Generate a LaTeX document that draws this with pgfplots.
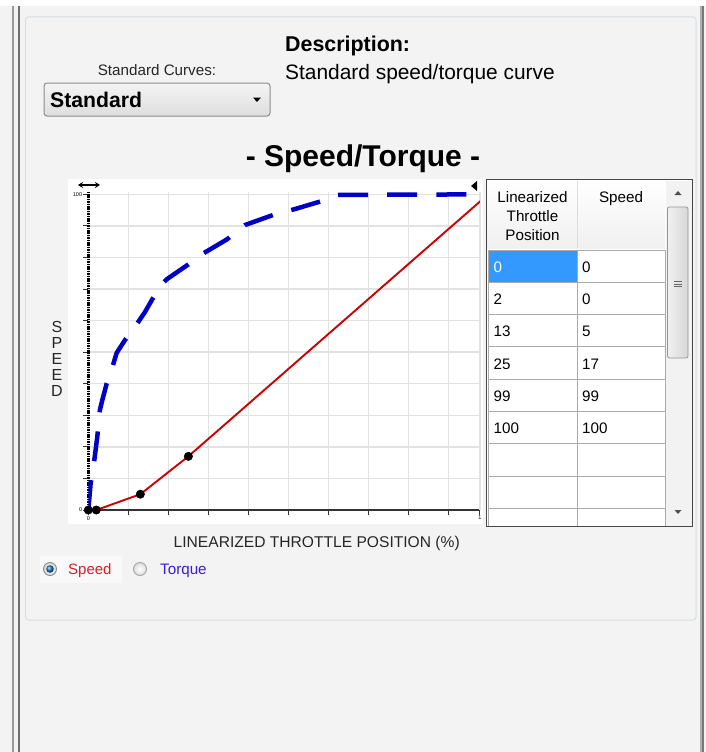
\documentclass[border=0pt]{standalone}
\usepackage{pgfplots}
\pgfplotsset{compat=1.18}
\usepackage{fontspec}
\setmainfont{Liberation Sans}
\usetikzlibrary{arrows.meta}
\definecolor{bg}{RGB}{243,243,243}
\definecolor{panel}{RGB}{214,223,230}
\definecolor{gridc}{RGB}{226,226,226}
\definecolor{redS}{RGB}{208,0,0}
\definecolor{blueT}{RGB}{0,0,200}
\definecolor{sel}{RGB}{51,153,255}
\definecolor{cellline}{RGB}{170,170,170}
\definecolor{tabborder}{RGB}{70,70,70}
\definecolor{speedtxt}{RGB}{220,30,40}
\definecolor{torquetxt}{RGB}{60,30,210}
\newcommand{\fs}[1]{\fontsize{#1pt}{#1pt}\selectfont}
\begin{document}
\begin{tikzpicture}[x=1pt,y=-1pt]
% background
\fill[bg] (0,0) rectangle (706,752);
\fill[white] (0,0) rectangle (706,6);
\draw[line width=1.3pt, color={rgb,255:red,155;green,155;blue,155}] (13,6) -- (13,752);
\draw[line width=1.3pt, color={rgb,255:red,110;green,110;blue,110}] (19,6) -- (19,752);
\draw[line width=1.6pt, color={rgb,255:red,175;green,175;blue,175}] (700.8,6) -- (700.8,752);
\draw[line width=1.8pt, color={rgb,255:red,120;green,120;blue,120}] (702.8,6) -- (702.8,752);
% panel
\draw[panel, line width=1pt, rounded corners=3pt] (25.5,17) rectangle (696,620);
% top controls
\node[anchor=base, inner sep=0pt, font=\fs{15.2}, text=black!85] at (157,75) {Standard Curves:};
\shade[top color={rgb,255:red,244;green,244;blue,244}, bottom color={rgb,255:red,222;green,222;blue,222}, rounded corners=3pt] (44,83) rectangle (270,116);
\draw[color={rgb,255:red,140;green,140;blue,140}, line width=1pt, rounded corners=3pt] (44,83) rectangle (270,116);
\node[anchor=base west, inner sep=0pt, font=\bfseries\fs{21.2}] at (50,107) {Standard};
\fill[black] (253,97.5) -- (261,97.5) -- (257,102) -- cycle;
\node[anchor=base west, inner sep=0pt, font=\bfseries\fs{21.4}] at (285,52) {Description:};
\node[anchor=base west, inner sep=0pt, font=\fs{20.9}] at (285,80) {Standard speed/torque curve};
\node[anchor=base, inner sep=0pt, font=\bfseries\fs{30}] at (363,166) {- Speed/Torque -};
% chart white area
\fill[white] (68,179) rectangle (483,524);
% double arrow and triangle
\draw[line width=1.6pt, {Stealth[length=5pt,width=6pt]}-{Stealth[length=5pt,width=6pt]}] (78,185) -- (100,185);
\fill[black] (471,186) -- (477,181) -- (477,191) -- cycle;
\begin{axis}[
  at={(88.3pt,-510pt)}, anchor=south west,
  scale only axis, width=391.5pt, height=318.2pt,
  xmin=0, xmax=97.8, ymin=0, ymax=100.8,
  axis x line=bottom, axis y line=left,
  axis line style={-},
  x axis line style={draw=black!80, line width=1.2pt},
  y axis line style={draw=black, line width=2.6pt, dash pattern=on 1.6pt off 0.8pt},
  xtick={0,10,...,90}, ytick={0,10,...,100},
  xticklabels={0,,,,,,,,,},
  yticklabels={0,,,,,,,,,,100},
  extra x ticks={97.8}, extra x tick labels={1},
  grid=major, major grid style={color=gridc, line width=1.5pt},
  tick style={color=black!80, line width=0.9pt},
  major tick length=5pt, tick align=outside,
  tick label style={font=\fs{5.5}, inner sep=1pt},
  xlabel={LINEARIZED THROTTLE POSITION (\%)},
  xlabel style={at={(axis description cs:0.5834,0)}, anchor=base, yshift=-37.7pt, font=\fs{15.6}, text=black!85, inner sep=0pt},
  ylabel={S\\P\\E\\E\\D},
  ylabel style={rotate=-90, at={(axis description cs:0,0.4745)}, anchor=center, xshift=-31.3pt, align=center, font=\fs{16}, text=black!85, inner sep=0pt},
]
\addplot[color=blueT, line width=4.5pt, dash pattern=on 30pt off 19.2pt, line join=round] coordinates {
(0,0) (0.58,8.4) (1.5,15.8) (2.25,23.2) (2.9,31.7) (3.5,34.8) (4.6,40.1) (5.8,44.4) (7.1,49.8) (9.2,53.9) (11.7,58.1) (14.2,62.8) (17.75,70.7) (19.6,73.1) (25,77.8) (28.75,81.3) (34.6,85.7) (39.2,90.3) (46.7,93.7) (51.25,95.2) (57.9,97.7) (62.1,99.8) (100,100)
};
\addplot[color=redS, line width=1.9pt, mark=*, mark indices={1,2,3,4}, mark size=4.2pt, mark options={fill=black, draw=black, line width=0.5pt}] coordinates {
(0,0) (2,0) (13,5) (25,17) (99,99) (100,100)
};
\end{axis}
% legend radio buttons
\fill[color={rgb,255:red,249;green,249;blue,249}] (40,556) rectangle (122,583);
\shade[inner color=white, outer color={rgb,255:red,215;green,215;blue,215}] (50,569) circle (6.5);
\draw[color={rgb,255:red,140;green,140;blue,140}, line width=0.9pt] (50,569) circle (6.5);
\shade[ball color={rgb,255:red,30;green,120;blue,190}] (50,569) circle (3.8);
\node[anchor=base west, inner sep=0pt, font=\fs{15}, text=speedtxt] at (68,574.5) {Speed};
\shade[inner color=white, outer color={rgb,255:red,220;green,220;blue,220}] (140,569) circle (6.5);
\draw[color={rgb,255:red,165;green,165;blue,165}, line width=0.9pt] (140,569) circle (6.5);
\node[anchor=base west, inner sep=0pt, font=\fs{15.2}, text=torquetxt] at (160,574.5) {Torque};
% table
\fill[white] (486,179.5) rectangle (692,526);
\shade[top color=white, bottom color={rgb,255:red,240;green,240;blue,240}] (487,180.5) rectangle (665,248);
\draw[color={rgb,255:red,220;green,220;blue,220}, line width=0.8pt] (577,181) -- (577,248);
\node[inner sep=0pt, anchor=base, font=\fs{15.2}] at (532.5,202) {Linearized};
\node[inner sep=0pt, anchor=base, font=\fs{15.2}] at (532.5,221) {Throttle};
\node[inner sep=0pt, anchor=base, font=\fs{15.2}] at (532.5,240) {Position};
\node[inner sep=0pt, anchor=base, font=\fs{15.2}] at (621,202) {Speed};
\fill[sel] (489,251) rectangle (576.5,281.5);
\foreach \r in {0,...,8} {
  \draw[cellline, line width=1pt] (488,{250+\r*32.3}) -- (665,{250+\r*32.3});
}
\foreach \c in {488,577,665} {
  \draw[cellline, line width=1pt] (\c,249.5) -- (\c,526);
}
\foreach \a/\b [count=\i from 0] in {0/0,2/0,13/5,25/17,99/99,100/100} {
  \ifnum\i=0
    \node[anchor=base west, inner sep=0pt, font=\fs{15.2}, text=white] at (493.5,{272.3+\i*32.3}) {\a};
  \else
    \node[anchor=base west, inner sep=0pt, font=\fs{15.2}] at (493.5,{272.3+\i*32.3}) {\a};
  \fi
  \node[anchor=base west, inner sep=0pt, font=\fs{15.2}] at (582,{272.3+\i*32.3}) {\b};
}
% scrollbar
\fill[color={rgb,255:red,242;green,242;blue,242}] (665.5,180.5) rectangle (691.5,525.5);
\fill[color={rgb,255:red,80;green,80;blue,80}] (674.5,195) -- (681.5,195) -- (678,191) -- cycle;
\fill[color={rgb,255:red,80;green,80;blue,80}] (674.5,510) -- (681.5,510) -- (678,514) -- cycle;
\shade[left color={rgb,255:red,240;green,240;blue,240}, right color={rgb,255:red,215;green,215;blue,215}, rounded corners=2pt] (667.5,207) rectangle (688,358);
\draw[color={rgb,255:red,150;green,150;blue,150}, line width=0.8pt, rounded corners=2pt] (667.5,207) rectangle (688,358);
\foreach \g in {281.5,284,286.5} { \draw[color={rgb,255:red,100;green,100;blue,100}, line width=0.7pt] (673.5,\g) -- (682,\g); }
\draw[tabborder, line width=1pt] (486,179.5) rectangle (692,526);
\pgfresetboundingbox
\useasboundingbox (0,0) rectangle (706,752);
\end{tikzpicture}
\end{document}
